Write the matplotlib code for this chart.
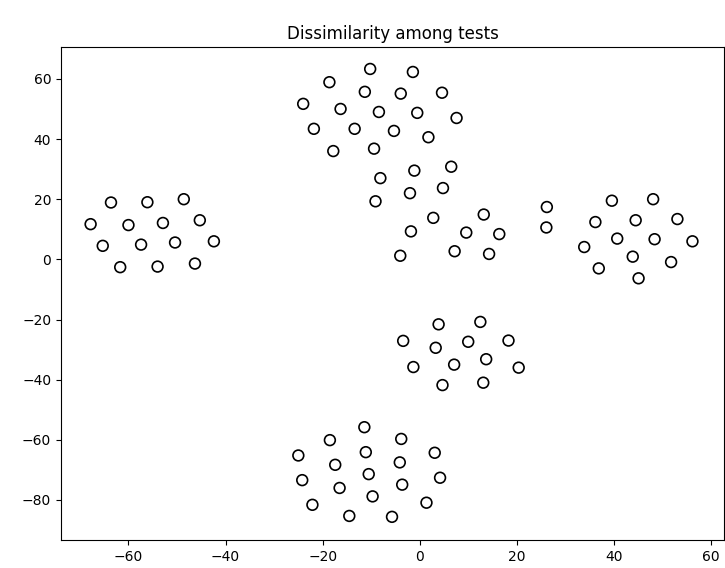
import numpy as np
import matplotlib
matplotlib.use("Agg")
import matplotlib.pyplot as plt

# point coordinates (5 groups)
x_left = [-63.6, -56.1, -48.6, -67.8, -60.0, -52.9, -45.3, -65.3, -57.4, -50.4, -42.4, -61.7, -54.0, -46.3]
y_left = [18.9, 19.0, 20.0, 11.7, 11.4, 12.1, 13.0, 4.5, 4.9, 5.6, 6.0, -2.6, -2.4, -1.4]

x_top = [-10.2, -1.4, -18.6, -11.3, -3.9, 4.6, -24.0, -16.3, -8.4, -0.5, 7.6, -21.8, -13.4, -5.3, 1.8,
         -17.8, -9.4, -8.1, -1.1, 6.5, -9.1, -2.0, 4.8, 2.8, 13.2, -1.8, 9.6, 16.4, -4.0, 7.2, 14.3]
y_top = [63.3, 62.3, 58.9, 55.7, 55.1, 55.4, 51.7, 50.0, 49.0, 48.7, 47.0, 43.4, 43.4, 42.7, 40.6,
         36.0, 36.8, 27.0, 29.5, 30.8, 19.3, 22.0, 23.7, 13.8, 14.9, 9.3, 8.9, 8.4, 1.2, 2.7, 1.8]

x_right = [26.2, 26.1, 39.6, 48.1, 36.2, 44.5, 53.1, 40.7, 48.4, 56.2, 33.9, 43.9, 51.8, 36.9, 45.1]
y_right = [17.4, 10.6, 19.5, 20.0, 12.4, 13.0, 13.4, 6.9, 6.7, 6.0, 4.1, 0.9, -0.9, -3.0, -6.3]

x_mid = [3.9, 12.5, -3.4, 3.3, 10.0, 18.3, -1.3, 7.1, 13.7, 20.4, 4.7, 13.1]
y_mid = [-21.6, -20.8, -27.1, -29.4, -27.4, -27.0, -35.8, -35.0, -33.2, -36.0, -41.8, -41.0]

x_bottom = [-11.4, -18.5, -3.8, -25.0, -11.1, -4.1, 3.1, -17.4, -10.5, -24.2, 4.2, -16.5, -3.6,
            -9.7, -22.1, 1.4, -14.5, -5.7]
y_bottom = [-55.8, -60.1, -59.7, -65.2, -64.1, -67.5, -64.3, -68.3, -71.4, -73.4, -72.6, -76.0, -74.9,
            -78.8, -81.6, -80.9, -85.3, -85.6]

xs = np.array(x_left + x_top + x_right + x_mid + x_bottom)
ys = np.array(y_left + y_top + y_right + y_mid + y_bottom)

fig = plt.figure(figsize=(7.25, 5.68), dpi=100)
ax = fig.add_axes([61 / 725, 28 / 568, 663 / 725, 493 / 568])
ax.scatter(xs, ys, s=60, facecolors='none', edgecolors='black', linewidths=1.2)
ax.set_xlim(-73.9, 62.7)
ax.set_ylim(-93.3, 70.6)
ax.set_xticks([-60, -40, -20, 0, 20, 40, 60])
ax.set_yticks([-80, -60, -40, -20, 0, 20, 40, 60])
ax.set_title('Dissimilarity among tests')

fig.savefig('out.png', dpi=100)
